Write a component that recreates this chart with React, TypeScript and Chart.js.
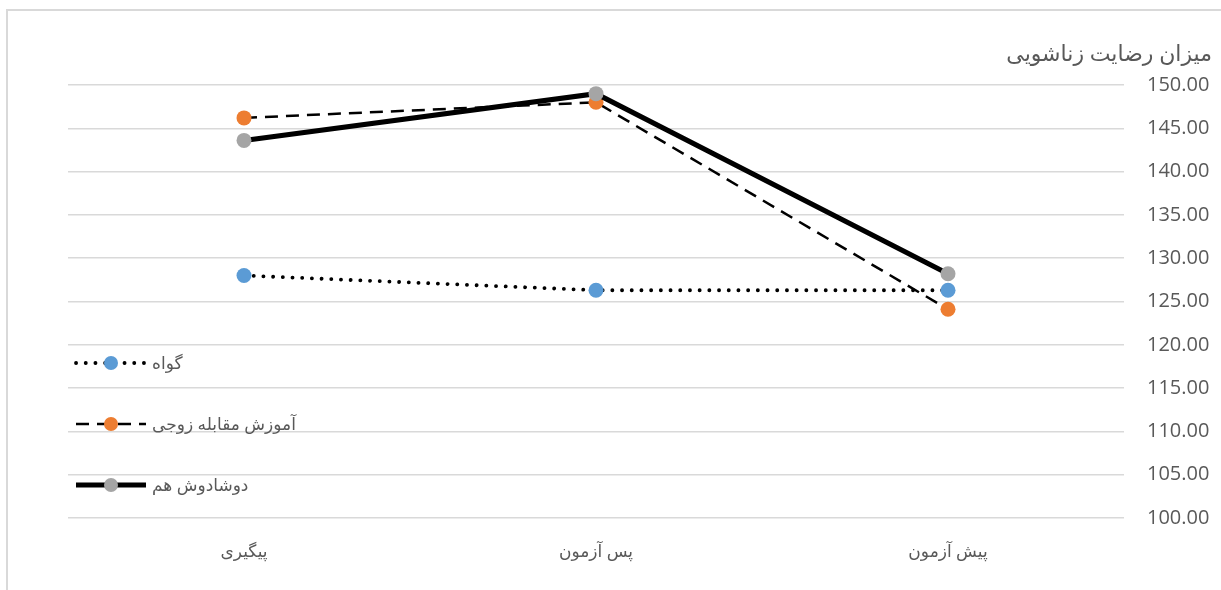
import React, { useEffect, useRef } from "react";
import { Chart, registerables } from "chart.js";

Chart.register(...registerables);

const categories = ["پیگیری", "پس آزمون", "پیش آزمون"];
const seriesNames = ["گواه", "آموزش مقابله زوجی", "دوشادوش هم"];
const controlValues = [128.0, 126.3, 126.3];
const copingValues = [146.2, 148.0, 124.1];
const togetherValues = [143.6, 149.0, 128.2];
const axisTitle = "میزان رضایت زناشویی";
const yMin = 100;
const yMax = 150;
const yStep = 5;

const FONT = "'Open Sans', 'DejaVu Sans', sans-serif";
const TEXT = "#595959";

const legendPlugin = {
  id: "customLegend",
  afterDraw(chart: any) {
    const ctx = chart.ctx;
    ctx.save();
    // axis title
    ctx.font = `22px ${FONT}`;
    ctx.fillStyle = TEXT;
    ctx.textAlign = "right";
    ctx.textBaseline = "middle";
    ctx.fillText(axisTitle, 1212, 55);

    const ys = [363, 424, 485];
    chart.data.datasets.forEach((ds: any, i: number) => {
      const y = ys[i];
      ctx.save();
      ctx.strokeStyle = ds.borderColor;
      ctx.lineWidth = ds.borderWidth;
      ctx.lineCap = ds.borderCapStyle || "butt";
      ctx.setLineDash(ds.borderDash || []);
      ctx.beginPath();
      ctx.moveTo(76, y);
      ctx.lineTo(146, y);
      ctx.stroke();
      ctx.restore();
      ctx.beginPath();
      ctx.fillStyle = ds.pointBackgroundColor;
      ctx.arc(111, y, 7, 0, Math.PI * 2);
      ctx.fill();
      ctx.font = `17px ${FONT}`;
      ctx.fillStyle = TEXT;
      ctx.textAlign = "left";
      ctx.textBaseline = "middle";
      ctx.fillText(ds.label, 152, y + 1);
    });
    ctx.restore();
  },
};

export default function App() {
  const ref = useRef<HTMLCanvasElement | null>(null);

  useEffect(() => {
    if (!ref.current) return;
    const chart = new Chart(ref.current, {
      type: "line",
      data: {
        labels: categories,
        datasets: [
          {
            label: seriesNames[0],
            data: controlValues,
            borderColor: "#000000",
            borderWidth: 3.8,
            borderDash: [0.1, 9.6],
            borderCapStyle: "round",
            pointBackgroundColor: "#5B9BD5",
            pointBorderWidth: 0,
            pointRadius: 7.5,
            order: 3,
          },
          {
            label: seriesNames[1],
            data: copingValues,
            borderColor: "#000000",
            borderWidth: 2.5,
            borderDash: [13, 8],
            borderCapStyle: "butt",
            pointBackgroundColor: "#ED7D31",
            pointBorderWidth: 0,
            pointRadius: 7.5,
            order: 2,
          },
          {
            label: seriesNames[2],
            data: togetherValues,
            borderColor: "#000000",
            borderWidth: 5,
            borderDash: [],
            borderCapStyle: "butt",
            pointBackgroundColor: "#A5A5A5",
            pointBorderWidth: 0,
            pointRadius: 7.5,
            order: 1,
          },
        ] as any,
      },
      options: {
        animation: false,
        responsive: false,
        maintainAspectRatio: false,
        layout: { padding: { left: 68, top: 85, right: 0, bottom: 0 } },
        plugins: {
          legend: { display: false },
          tooltip: { enabled: false },
          title: { display: false },
        },
        elements: { line: { tension: 0 } },
        scales: {
          x: {
            type: "category",
            offset: true,
            grid: { display: false, drawTicks: false },
            border: { display: false },
            ticks: {
              color: TEXT,
              font: { family: FONT, size: 17 },
              padding: 24,
            },
            afterFit(scale: any) {
              scale.height = 590 - 518;
            },
          },
          y: {
            position: "right",
            min: yMin,
            max: yMax,
            grid: { color: "#D9D9D9", lineWidth: 1.5, drawTicks: false },
            border: { display: false },
            ticks: {
              stepSize: yStep,
              color: TEXT,
              font: { family: FONT, size: 20 },
              padding: 23,
              callback: (v: any) => Number(v).toFixed(2),
            },
            afterFit(scale: any) {
              scale.width = 1221 - 1124;
            },
          },
        },
      } as any,
      plugins: [legendPlugin],
    });
    return () => chart.destroy();
  }, []);

  return (
    <div style={{ position: "fixed", left: 0, top: 0, width: 1221, height: 590, background: "#fff", overflow: "hidden" }}>
      <div
        style={{
          position: "absolute",
          left: 6,
          top: 9,
          width: 1300,
          height: 700,
          borderTop: "2px solid #D9D9D9",
          borderLeft: "2px solid #D9D9D9",
        }}
      />
      <canvas ref={ref} width={1221} height={590} style={{ position: "absolute", left: 0, top: 0, width: 1221, height: 590 }} />
    </div>
  );
}
